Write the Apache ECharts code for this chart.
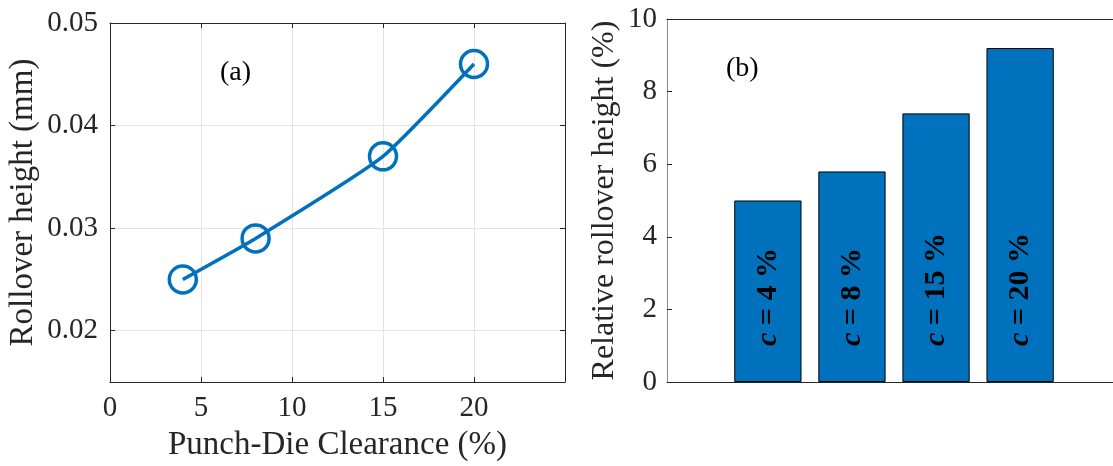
<!DOCTYPE html>
<html><head><meta charset="utf-8">
<script src="https://cdn.jsdelivr.net/npm/echarts@6/dist/echarts.min.js"></script>
<style>html,body{margin:0;padding:0;background:#fff}#c{width:1113px;height:466px}</style>
</head><body><div id="c"></div>
<script>
const clearance = [4, 8, 15, 20];
const rolloverHeight = [0.025, 0.029, 0.037, 0.046];
const barPositions = [1, 2, 3, 4];
const relativeHeight = [5.0, 5.8, 7.4, 9.2];
const xTicksA = [0, 5, 10, 15, 20];
const yTicksA = [0.02, 0.03, 0.04, 0.05];
const barLabels = ['4', '8', '15', '20'];

const FONT = "'Liberation Serif', 'Times New Roman', serif";
const TXT = '#262626';
const BLUE = '#0072BD';
const chart = echarts.init(document.getElementById('c'), null, {renderer: 'canvas'});
const option = {
  backgroundColor: '#fff',
  animation: false,
  textStyle: {fontFamily: FONT},
  title: [
    {text: '(a)', left: 220, top: 59, padding: 0, textStyle: {fontSize: 28, fontWeight: 'normal', fontFamily: FONT, color: '#000'}},
    {text: '(b)', left: 726, top: 55, padding: 0, textStyle: {fontSize: 28, fontWeight: 'normal', fontFamily: FONT, color: '#000'}}
  ],
  grid: [
    {left: 110, width: 455, top: 23, height: 359, outerBoundsMode: 'none', containLabel: false},
    {left: 667, width: 454, top: 19, height: 363, outerBoundsMode: 'none', containLabel: false}
  ],
  xAxis: [
    {gridIndex: 0, type: 'value', min: 0, max: 25, interval: 5, position: 'bottom',
     name: 'Punch-Die Clearance (%)', nameLocation: 'middle', nameGap: 47,
     nameTextStyle: {fontSize: 33, color: TXT, fontFamily: FONT},
     axisLine: {show: true, onZero: false, lineStyle: {color: TXT, width: 1}},
     axisTick: {show: true, inside: true, length: 5, lineStyle: {color: TXT}},
     axisLabel: {customValues: xTicksA, fontSize: 29, color: TXT, margin: 12, fontFamily: FONT},
     splitLine: {show: true, lineStyle: {color: '#e3e3e3', width: 1}}},
    {gridIndex: 0, type: 'value', min: 0, max: 25, interval: 5, position: 'top',
     axisLine: {show: true, onZero: false, lineStyle: {color: TXT, width: 1}},
     axisTick: {show: true, inside: true, length: 5, lineStyle: {color: TXT}},
     axisLabel: {show: false}, splitLine: {show: false}},
    {gridIndex: 1, type: 'value', min: -0.2, max: 5.2, position: 'bottom',
     axisLine: {show: true, onZero: false, lineStyle: {color: TXT, width: 1}},
     axisTick: {show: false}, axisLabel: {show: false}, splitLine: {show: false}},
    {gridIndex: 1, type: 'value', min: -0.2, max: 5.2, position: 'top',
     axisLine: {show: true, onZero: false, lineStyle: {color: TXT, width: 1}},
     axisTick: {show: false}, axisLabel: {show: false}, splitLine: {show: false}}
  ],
  yAxis: [
    {gridIndex: 0, type: 'value', min: 0.015, max: 0.05, position: 'left',
     name: 'Rollover height (mm)', nameLocation: 'middle', nameGap: 70,
     nameTextStyle: {fontSize: 33, color: TXT, fontFamily: FONT},
     axisLine: {show: true, onZero: false, lineStyle: {color: TXT, width: 1}},
     axisTick: {show: true, inside: true, length: 5, customValues: yTicksA, lineStyle: {color: TXT}},
     axisLabel: {customValues: yTicksA, fontSize: 29, color: TXT, margin: 12, fontFamily: FONT,
                 formatter: v => v.toFixed(2)},
     splitLine: {show: true, lineStyle: {color: '#e3e3e3', width: 1}}},
    {gridIndex: 0, type: 'value', min: 0.015, max: 0.05, position: 'right',
     axisLine: {show: true, onZero: false, lineStyle: {color: TXT, width: 1}},
     axisTick: {show: true, inside: true, length: 5, customValues: yTicksA, lineStyle: {color: TXT}},
     axisLabel: {show: false}, splitLine: {show: false}},
    {gridIndex: 1, type: 'value', min: 0, max: 10, interval: 2, position: 'left',
     name: 'Relative rollover height (%)', nameLocation: 'middle', nameGap: 46,
     nameTextStyle: {fontSize: 32, color: TXT, fontFamily: FONT},
     axisLine: {show: true, onZero: false, lineStyle: {color: '#8c8c8c', width: 1}},
     axisTick: {show: true, inside: true, length: 5, lineStyle: {color: TXT}},
     axisLabel: {fontSize: 29, color: TXT, margin: 10, fontFamily: FONT},
     splitLine: {show: false}}
  ],
  series: [
    {type: 'line', xAxisIndex: 0, yAxisIndex: 0,
     data: clearance.map((x, i) => [x, rolloverHeight[i]]),
     smooth: 0.15, symbol: 'circle', symbolSize: 27,
     lineStyle: {color: BLUE, width: 3.5},
     itemStyle: {color: 'rgba(255,255,255,0)', borderColor: BLUE, borderWidth: 3.5},
     z: 3},
    {type: 'bar', xAxisIndex: 2, yAxisIndex: 2,
     data: barPositions.map((x, i) => [x, relativeHeight[i]]),
     barWidth: '80%',
     itemStyle: {color: BLUE, borderColor: '#000', borderWidth: 1},
     label: {show: true, position: 'insideBottom', distance: 36, rotate: 90,
       align: 'left', verticalAlign: 'middle',
       formatter: p => '{i|c}{b| = ' + barLabels[p.dataIndex] + ' %}',
       rich: {
         i: {fontStyle: 'italic', fontWeight: 'bold', fontSize: 30, fontFamily: FONT, color: '#000'},
         b: {fontWeight: 'bold', fontSize: 30, fontFamily: FONT, color: '#000'}
       }}}
  ]
};
chart.setOption(option);
</script></body></html>
